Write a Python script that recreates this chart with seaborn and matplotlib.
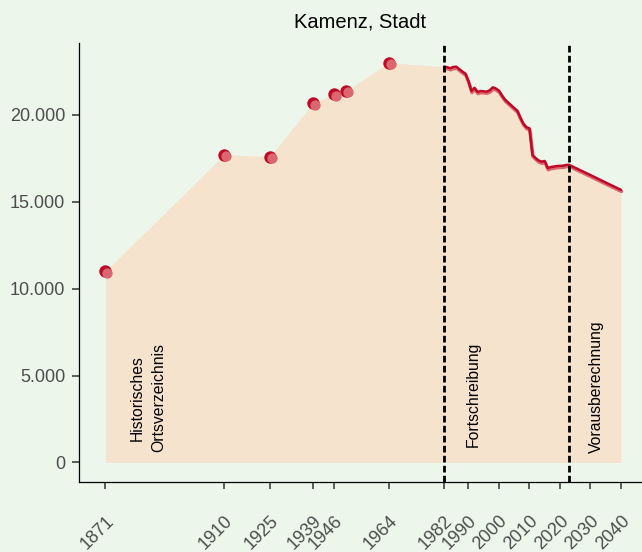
import pandas as pd
import numpy as np
import matplotlib
matplotlib.use("Agg")
import matplotlib.pyplot as plt
import seaborn as sns
from matplotlib.ticker import FuncFormatter
from matplotlib.transforms import offset_copy

# Data
title = "Kamenz, Stadt"

hist_years = [1871, 1910, 1925, 1939, 1946, 1950, 1964]
hist_pop = [11000, 17720, 17600, 20670, 21210, 21400, 23010]

fort_years = list(range(1982, 2023))
fort_pop = [22780, 22750, 22690, 22760, 22780, 22640, 22500, 22380, 21950, 21380,
            21560, 21320, 21380, 21360, 21340, 21420, 21590, 21520, 21400, 21120,
            20880, 20720, 20560, 20400, 20250, 19850, 19500, 19300, 19230, 17700,
            17520, 17380, 17310, 17350, 16940, 17000, 17030, 17060, 17070, 17080,
            17120]

proj_years = [2023, 2025, 2030, 2035, 2040]
proj_pop = [17130, 16960, 16540, 16110, 15690]

x_ticks = [1871, 1910, 1925, 1939, 1946, 1964, 1982, 1990, 2000, 2010, 2020, 2030, 2040]
y_ticks = [0, 5000, 10000, 15000, 20000]
breaks = [1982, 2023]

section_labels = ["Historisches\nOrtsverzeichnis", "Fortschreibung", "Vorausberechnung"]
section_x = [1885, 1991.5, 2032]
section_y = [575, 860, 540]

BG = "#ECF6EB"
PEACH = "#F5E3CD"
RED = "#BE0A26"
RED_LIGHT = "#DC6670"


def main():
    sns.set_theme(style="ticks")
    plt.rcParams["font.family"] = ["Liberation Sans", "DejaVu Sans"]

    hist = pd.DataFrame({"year": hist_years, "pop": hist_pop})
    series = pd.DataFrame({"year": fort_years + proj_years, "pop": fort_pop + proj_pop})
    area = pd.concat([hist, series], ignore_index=True)

    fig = plt.figure(figsize=(6.42, 5.52), dpi=100, facecolor=BG)
    ax = fig.add_axes([79 / 642, 1 - 482 / 552, (642 - 79) / 642, (482 - 43) / 552])
    ax.set_facecolor(BG)

    ax.fill_between(area["year"], 0, area["pop"], color=PEACH, lw=0, zorder=1)

    # lighter copy slightly shifted, drawn under the line
    shadow = offset_copy(ax.transData, fig=fig, x=0.5, y=-1.6, units="dots")
    sns.lineplot(data=series, x="year", y="pop", color=RED_LIGHT, lw=2.5,
                 ax=ax, zorder=3, transform=shadow)
    sns.lineplot(data=series, x="year", y="pop", color=RED, lw=1.8, ax=ax, zorder=4)

    sns.scatterplot(data=hist, x="year", y="pop", color=RED, s=80, linewidth=0,
                    ax=ax, zorder=5)
    dot_shift = offset_copy(ax.transData, fig=fig, x=1.8, y=-1.8, units="dots")
    sns.scatterplot(data=hist, x="year", y="pop", color=RED_LIGHT, s=55, linewidth=0,
                    ax=ax, zorder=6, transform=dot_shift)

    for b in breaks:
        ax.axvline(b, color="black", lw=2.0, ls=(0, (2.4, 1.2)), zorder=7)

    for lab, x, y in zip(section_labels, section_x, section_y):
        ax.text(x, y, lab, rotation=90, ha="center", va="bottom", fontsize=11.3,
                color="black", linespacing=1.5, zorder=8)

    ax.set_xlim(1862.35, 2046.9)
    ax.set_ylim(-1127, 24142)
    ax.set_xticks(x_ticks)
    ax.set_xticklabels([str(t) for t in x_ticks], rotation=45, ha="right",
                       va="top", rotation_mode="anchor")
    ax.set_yticks(y_ticks)
    ax.yaxis.set_major_formatter(FuncFormatter(lambda v, p: f"{int(v):,}".replace(",", ".")))

    ax.tick_params(axis="both", length=5, width=1.1, color="#333333",
                   labelcolor="#4D4D4D", labelsize=13)
    ax.tick_params(axis="x", pad=17)
    ax.tick_params(axis="y", pad=5)

    ax.spines["top"].set_visible(False)
    ax.spines["right"].set_visible(False)
    for s in ["left", "bottom"]:
        ax.spines[s].set_color("black")
        ax.spines[s].set_linewidth(0.9)

    ax.set_xlabel("")
    ax.set_ylabel("")
    ax.set_title(title, fontsize=14.5, color="black", pad=11)

    fig.savefig("out.png", dpi=100, facecolor=BG)


if __name__ == "__main__":
    main()
